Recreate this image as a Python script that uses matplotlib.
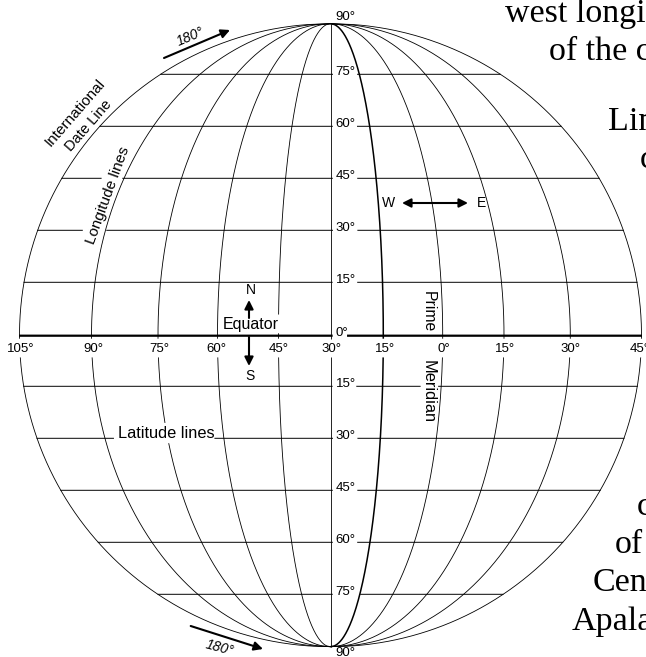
import numpy as np
import matplotlib
matplotlib.use('Agg')
import matplotlib.pyplot as plt

# Where each meridian crosses the equator (pixels)
lon_labels = ['105°', '90°', '75°', '60°', '45°', '30°', '15°', '0°', '15°', '30°', '45°']
lon_cross = [19.5, 91.5, 158, 217.5, 278.5, 330.5, 383.3, 442.7, 504, 570.3, 641.5]
lon_label_x = [20.5, 93, 159, 216, 279, 331, 385, 444, 505, 570, 640]

lats = [75, 60, 45, 30, 15, 0, -15, -30, -45, -60, -75]

# Label gaps cut into lines (pixels)
lat_gaps = {
    75: [(333, 357)], 60: [(333, 357)], 45: [(333, 357), (102, 122)],
    30: [(333, 357), (83, 106)], 15: [(333, 357)], 0: [(333, 347)],
    -15: [(333, 356), (421, 438)], -30: [(333, 357), (114, 214)],
    -45: [(333, 357)], -60: [(333, 357)], -75: [(333, 360)],
}
lon_gaps = {278.5: [(315, 333)], 158: [(423, 443)]}

side_text = [('west longi', 505, 22), ('of the c', 549, 60), ('Lin', 608, 130.5), ('c', 640, 168),
             ('c', 636.5, 515), ('of', 615, 553), ('Cen', 593, 591), ('Apala', 571.5, 630)]

cx, cy = 330.5, 335.2
radius = 311.5
px_per_deg = 52 / 15
sans = 'Liberation Sans'


def lat_y(lat):
    # the equator sits a little below the middle of the parallels
    return 335.7 if lat == 0 else 334.3 - lat * px_per_deg


def cut(pos, gaps):
    pos = np.array(pos, dtype=float)
    for a, b in gaps:
        pos[(pos > a) & (pos < b)] = np.nan
    return pos


fig = plt.figure(figsize=(6.46, 6.57), dpi=100)
ax = fig.add_axes([0, 0, 1, 1])
ax.set_xlim(0, 646)
ax.set_ylim(657, 0)
ax.axis('off')

# meridians are half ellipses from pole to pole
y = np.linspace(cy - radius, cy + radius, 800)
for xc in lon_cross:
    x = cx + (xc - cx) * np.sqrt(np.clip(1 - ((y - cy) / radius) ** 2, 0, 1))
    yy = cut(y, [(339, 357)] + lon_gaps.get(xc, []))
    lw = 1.1 if xc == 383.3 else 0.6
    ax.plot(x, yy, color='black', lw=lw, solid_capstyle='butt')

# parallels
for lat in lats:
    half = radius * np.sqrt(1 - ((lat_y(lat) - cy) / radius) ** 2)
    x = np.linspace(cx - half, cx + half, 1300)
    x = cut(x, lat_gaps[lat])
    lw = 1.6 if lat == 0 else 0.7
    ax.plot(x, np.full_like(x, lat_y(lat)), color='black', lw=lw, solid_capstyle='butt')

# latitude labels
for lat in lats:
    ax.text(335.5, lat_y(lat) - 2.5, f'{abs(lat)}°', family=sans, fontsize=9.5, ha='left', va='center')
ax.text(335.5, 17, '90°', family=sans, fontsize=9.5, ha='left', va='center')
ax.text(335.5, 653, '90°', family=sans, fontsize=9.5, ha='left', va='center')

# longitude labels
for lab, x in zip(lon_labels, lon_label_x):
    ax.text(x, 348.5, lab, family=sans, fontsize=9.5, ha='center', va='center')

# arrows
arrow = dict(arrowstyle='-|>', color='black', lw=1.5, mutation_scale=13, shrinkA=0, shrinkB=0)
ax.annotate('', xy=(230, 30), xytext=(164, 58), arrowprops=arrow)
ax.annotate('', xy=(263, 649), xytext=(190.7, 626), arrowprops=arrow)
ax.annotate('', xy=(249, 300), xytext=(249, 318), arrowprops=arrow)
ax.annotate('', xy=(249, 366), xytext=(249, 337), arrowprops=arrow)
ax.annotate('', xy=(468, 203), xytext=(402, 203),
            arrowprops=dict(arrowstyle='<|-|>', color='black', lw=1.5, mutation_scale=13, shrinkA=0, shrinkB=0))

# annotation text
label = dict(family=sans, ha='center', va='center', rotation_mode='anchor')
ax.text(190, 37, '180°', fontsize=10, style='italic', rotation=23, **label)
ax.text(220, 648, '180°', fontsize=10, style='italic', rotation=-15, **label)
ax.text(251, 290, 'N', fontsize=10, **label)
ax.text(250, 375.5, 'S', fontsize=10, **label)
ax.text(388.5, 203, 'W', fontsize=10, **label)
ax.text(481, 203, 'E', fontsize=10, **label)
ax.text(251, 325, 'Equator', fontsize=11.5, **label)
ax.text(166, 433, 'Latitude lines', fontsize=11.8, **label)
ax.text(428, 312, 'Prime', fontsize=11.3, rotation=-90, **label)
ax.text(428, 392, 'Meridian', fontsize=11.8, rotation=-90, **label)
ax.text(108, 195, 'Longitude lines', fontsize=11, rotation=70, **label)
ax.text(75, 113, 'International', fontsize=11, rotation=49, **label)
ax.text(88.7, 126, 'Date Line', fontsize=10.5, rotation=49, **label)

# body text from the page, cut off by the figure edge
for s, x, y0 in side_text:
    ax.text(x, y0, s, family='Liberation Serif', fontsize=24.5, ha='left', va='baseline')

fig.savefig('out.png', dpi=100)
